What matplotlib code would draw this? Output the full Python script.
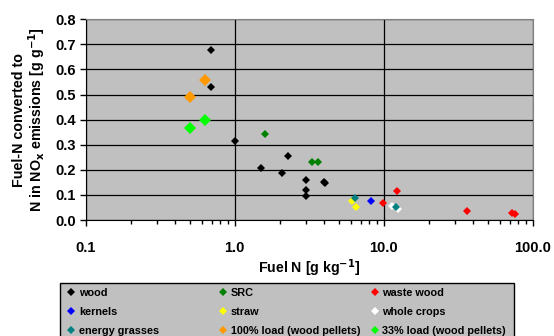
import matplotlib
matplotlib.use("Agg")
import matplotlib.pyplot as plt
from matplotlib.lines import Line2D
from matplotlib.patches import Rectangle
from matplotlib.ticker import LogLocator, NullFormatter, FixedLocator

plt.rcParams['font.family'] = ['Liberation Sans', 'DejaVu Sans']
plt.rcParams['font.weight'] = 'bold'

# fuel N [g/kg] and conversion [g/g] per fuel group
wood_x = [0.69, 0.69, 1.0, 1.5, 2.29, 2.09, 3.0, 3.0, 3.0, 4.0, 4.05]
wood_y = [0.678, 0.529, 0.316, 0.208, 0.256, 0.186, 0.158, 0.121, 0.096, 0.152, 0.146]
src_x = [1.6, 3.29, 3.6]
src_y = [0.342, 0.230, 0.230]
waste_x = [9.9, 12.2, 36.4, 73.0, 75.5]
waste_y = [0.069, 0.116, 0.037, 0.026, 0.022]
kernels_x = [8.26]
kernels_y = [0.075]
straw_x = [6.16, 6.49]
straw_y = [0.075, 0.053]
crops_x = [11.3, 12.5]
crops_y = [0.055, 0.045]
grass_x = [6.39, 12.0]
grass_y = [0.089, 0.051]
load100_x = [0.63, 0.50]
load100_y = [0.559, 0.490]
load33_x = [0.63, 0.50]
load33_y = [0.400, 0.368]

series = [
    ('wood', wood_x, wood_y, '#000000', 4.2),
    ('SRC', src_x, src_y, '#008000', 4.2),
    ('waste wood', waste_x, waste_y, '#ff0000', 4.2),
    ('kernels', kernels_x, kernels_y, '#0000ff', 4.2),
    ('straw', straw_x, straw_y, '#ffff00', 4.2),
    ('whole crops', crops_x, crops_y, '#ffffff', 4.2),
    ('energy grasses', grass_x, grass_y, '#008080', 4.2),
    ('100% load (wood pellets)', load100_x, load100_y, '#ff9900', 5.8),
    ('33% load (wood pellets)', load33_x, load33_y, '#00ff00', 5.8),
]

W, H = 554, 336
fig = plt.figure(figsize=(W / 100, H / 100), dpi=100)
ax = fig.add_axes([0.1547, 0.3452, 0.807, 0.5974])
ax.set_facecolor('#c0c0c0')

handles = {}
for name, xs, ys, col, ms in series:
    ax.plot(xs, ys, linestyle='none', marker='D', markersize=ms,
            markerfacecolor=col, markeredgecolor=col, markeredgewidth=0,
            zorder=3)
    # legend shows every group with the same small marker
    handles[name] = Line2D([], [], linestyle='none', marker='D', markersize=3.8,
                           markerfacecolor=col, markeredgewidth=0)

ax.set_xscale('log')
ax.set_xlim(0.1, 100)
ax.set_ylim(0, 0.8)
ax.xaxis.set_major_locator(FixedLocator([0.1, 1, 10, 100]))
ax.set_xticklabels(['0.1', '1.0', '10.0', '100.0'])
ax.xaxis.set_minor_locator(LogLocator(base=10, subs=range(2, 10)))
ax.xaxis.set_minor_formatter(NullFormatter())
ax.set_yticks([i / 10 for i in range(9)])
ax.set_yticklabels(['%.1f' % (i / 10) for i in range(9)])
ax.tick_params(axis='both', which='major', labelsize=10.5, length=4, width=1, direction='out')
ax.tick_params(axis='x', which='minor', length=3, width=1, direction='out')
ax.tick_params(axis='x', which='major', pad=11)
ax.tick_params(axis='y', which='major', pad=3)

ax.grid(True, which='major', axis='both', color='black', linewidth=0.9)
ax.set_axisbelow(True)
for side in ['top', 'right']:
    ax.spines[side].set_color('#808080')
for side in ['left', 'bottom']:
    ax.spines[side].set_color('black')

ax.set_xlabel('Fuel N [g kg$^{\\mathbf{-1}}$]', fontsize=10.2, fontweight='bold', labelpad=2)
ax.set_ylabel('Fuel-N converted to\nN in NO$_{\\mathbf{x}}$ emissions [g g$^{\\mathbf{-1}}$]',
              fontsize=10.3, fontweight='bold', labelpad=5, linespacing=1.05)

# legend box: grey frame with three evenly spaced columns, filled row by row
fig.patches.append(Rectangle((60 / W, -0.05), 454 / W, 0.05 + 1 - 283 / H,
                             transform=fig.transFigure, facecolor='#c0c0c0',
                             edgecolor='black', linewidth=1, zorder=0))
columns = [['wood', 'kernels', 'energy grasses'],
           ['SRC', 'straw', '100% load (wood pellets)'],
           ['waste wood', 'whole crops', '33% load (wood pellets)']]
col_x = [68.5, 220.5, 372]
for cx, names in zip(col_x, columns):
    leg = fig.legend([handles[n] for n in names], names, loc='upper left',
                     bbox_to_anchor=(cx / W, 1 - 288 / H), frameon=False,
                     fontsize=7.8, handlelength=0.5, handletextpad=0.45,
                     borderpad=0, borderaxespad=0, labelspacing=0.82)
    for t in leg.get_texts():
        t.set_fontweight('bold')

fig.savefig('out.png', dpi=100)
